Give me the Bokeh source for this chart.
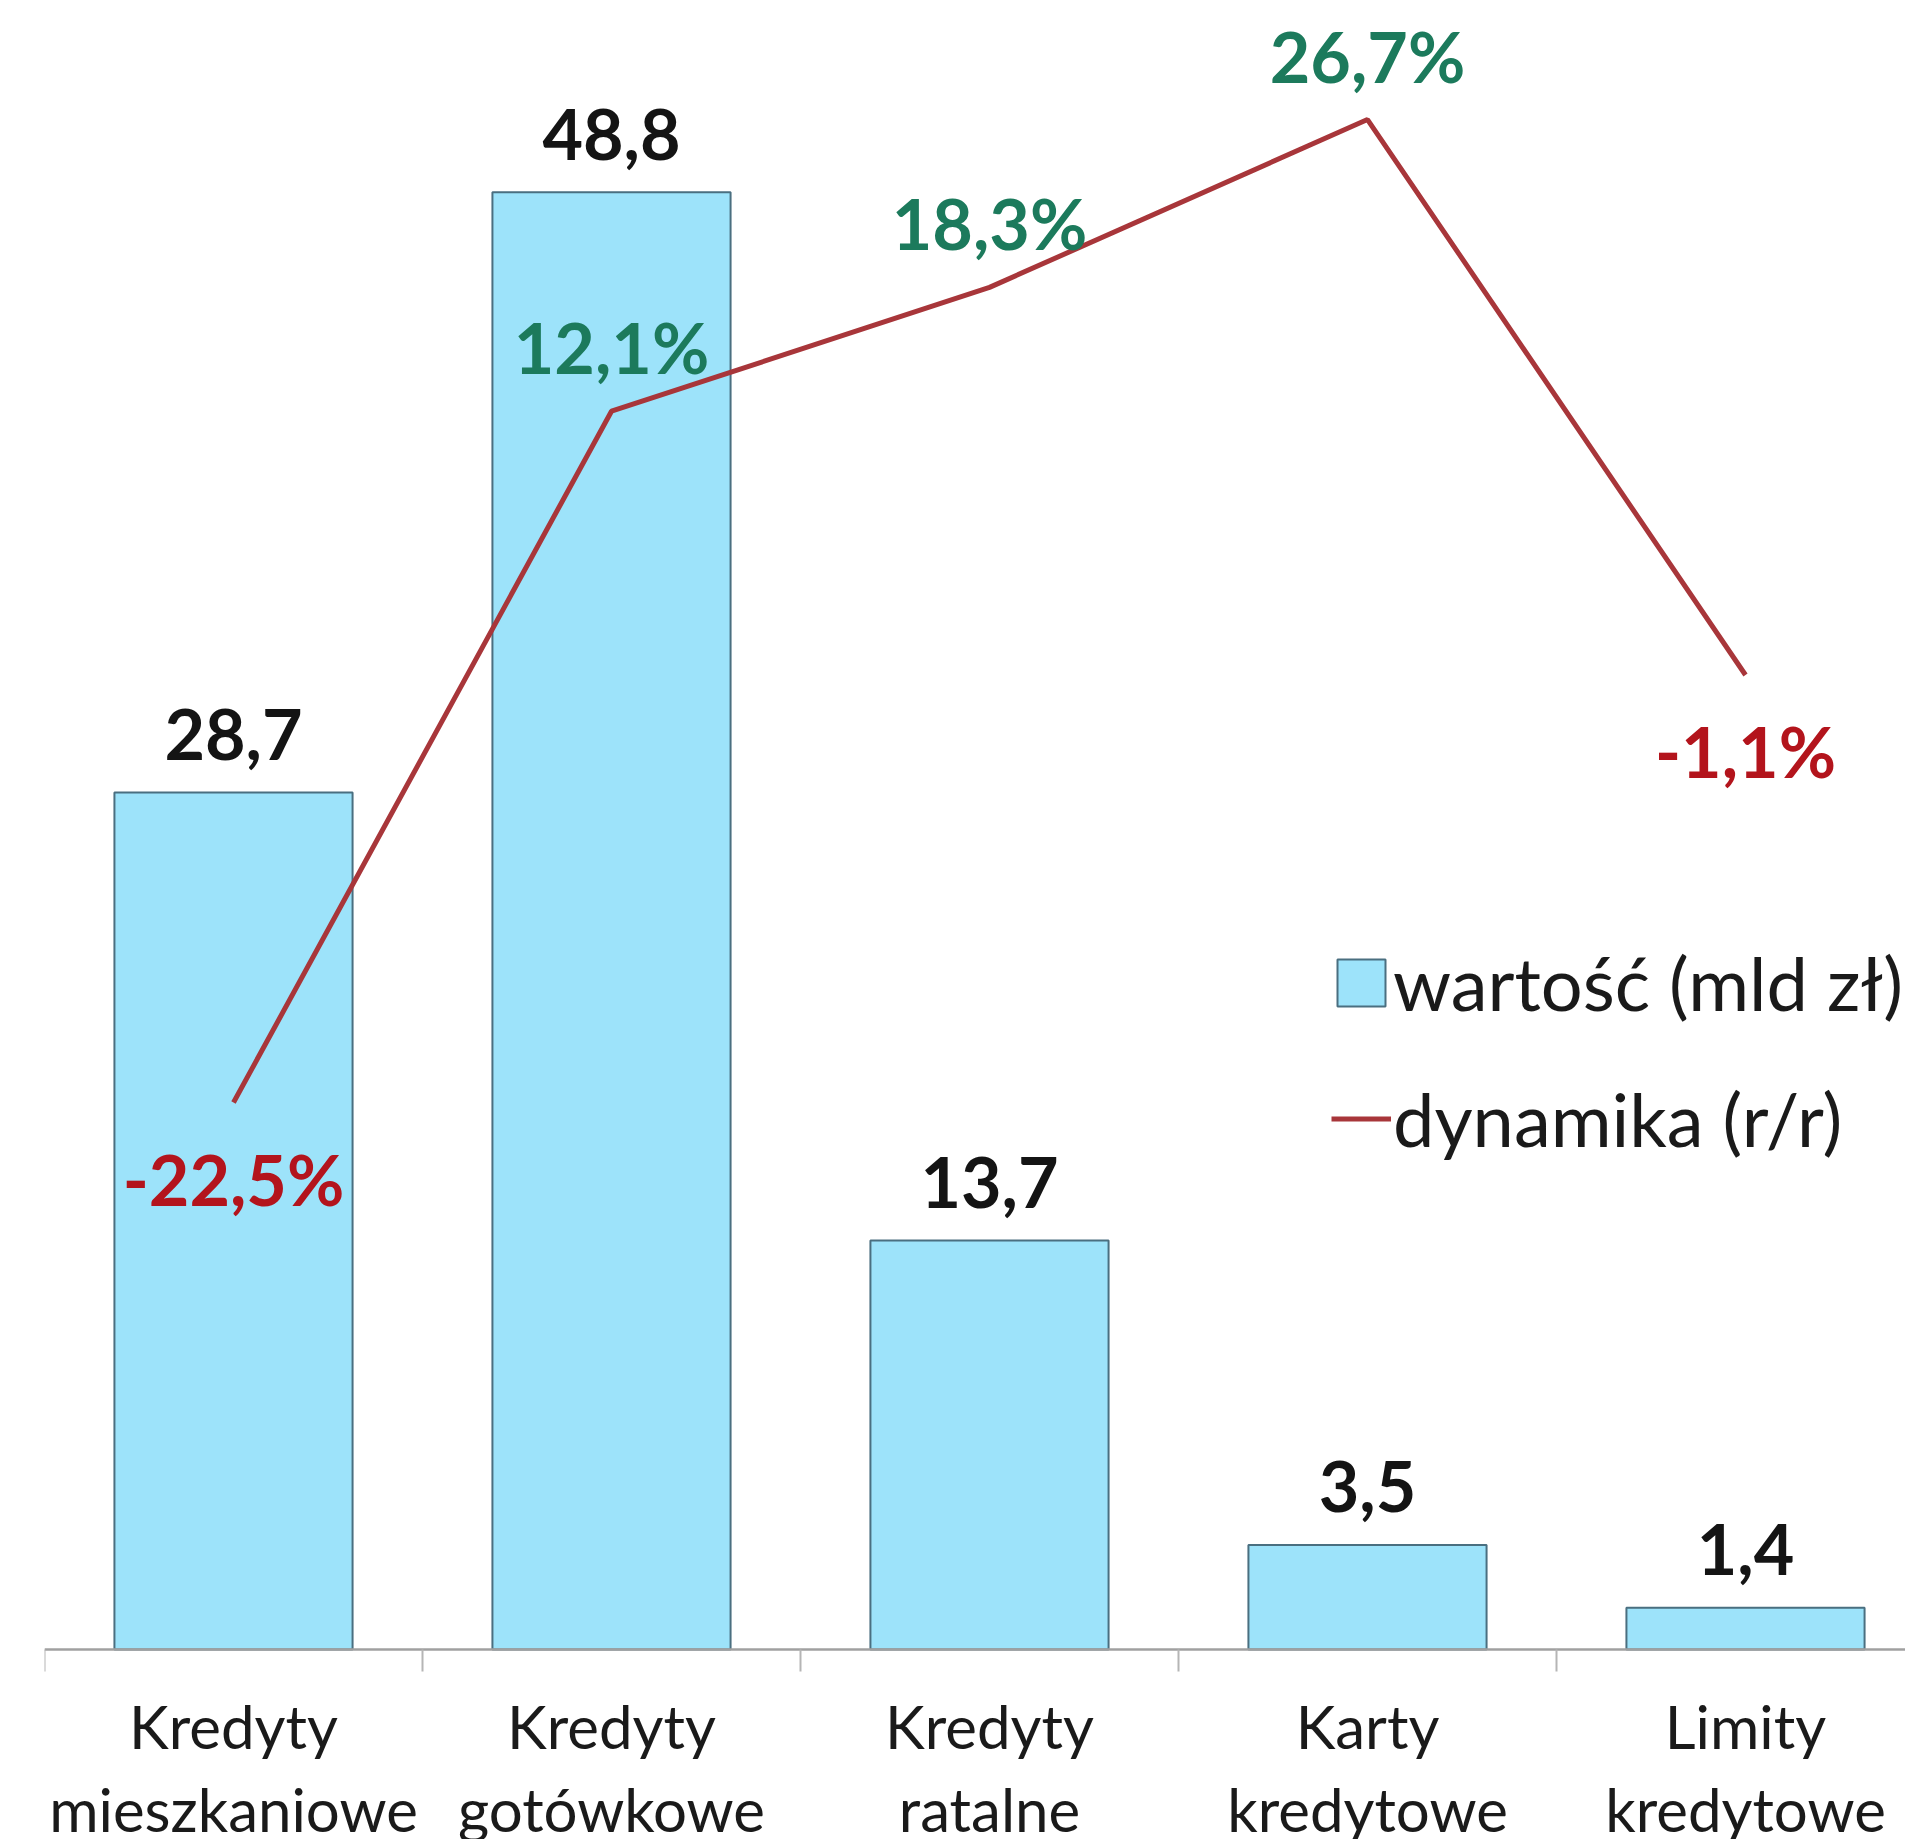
from bokeh.plotting import figure
from bokeh.models import Range1d, FixedTicker, ColumnDataSource, Legend, LegendItem
from bokeh.embed import file_html
from bokeh.resources import INLINE
from bokeh.core.properties import value

categories = ["Kredyty\nmieszkaniowe", "Kredyty\ngotówkowe", "Kredyty\nratalne",
              "Karty\nkredytowe", "Limity\nkredytowe"]
values = [28.7, 48.8, 13.7, 3.5, 1.4]
growth = [-22.5, 12.1, 18.3, 26.7, -1.1]
value_labels = ["28,7", "48,8", "13,7", "3,5", "1,4"]
growth_labels = ["-22,5%", "12,1%", "18,3%", "26,7%", "-1,1%"]
series_names = ["wartość (mld zł)", "dynamika (r/r)"]

FONT = "Lato"
W, H = 1905, 1839
LEFT = 44
AXIS_FROM_TOP = 1649          # axis line position inside the figure (px)
frame_w = W - LEFT
below_axis = H - AXIS_FROM_TOP
cat_px = 378.0
px_per_val = 29.86
px_per_pct = 19.98
zero_pct_above_axis = 996.5

xs = list(range(len(categories)))

p = figure(width=W, height=H, output_backend="svg", toolbar_location=None,
           x_range=Range1d(-0.5, -0.5 + frame_w / cat_px),
           y_range=Range1d(-below_axis / px_per_val, AXIS_FROM_TOP / px_per_val),
           y_axis_location=None, min_border_left=LEFT, min_border_right=0,
           min_border_top=0, min_border_bottom=0)
p.extra_y_ranges = {"pct": Range1d(-(zero_pct_above_axis + below_axis) / px_per_pct,
                                   (AXIS_FROM_TOP - zero_pct_above_axis) / px_per_pct)}
p.xgrid.visible = False
p.ygrid.visible = False
p.outline_line_color = None
p.background_fill_color = "white"
p.border_fill_color = "white"

src = ColumnDataSource(dict(x=xs, v=values, g=growth, vl=value_labels, gl=growth_labels,
                            gc=["#1c7a5c" if g >= 0 else "#b3141c" for g in growth],
                            goff=[-64 if g >= 0 else 76 for g in growth]))

bars = p.vbar(x="x", top="v", width=0.63, source=src, fill_color="#9de3fa",
              line_color="#4a6f80", line_width=2)
line = p.line(x="x", y="g", source=src, y_range_name="pct", line_color="#a8363a",
              line_width=5)

p.text(x="x", y="v", text="vl", source=src, y_offset=-58, text_align="center",
       text_baseline="middle", text_font=value(FONT), text_font_style="bold",
       text_font_size="70px", text_color="#141414")
p.text(x="x", y="g", text="gl", source=src, y_range_name="pct", y_offset="goff",
       text_align="center", text_baseline="middle", text_font=value(FONT),
       text_font_style="bold", text_font_size="70px", text_color="gc")

ax = p.xaxis[0]
ax.fixed_location = 0
ax.ticker = FixedTicker(ticks=xs, minor_ticks=[i - 0.5 for i in range(len(xs) + 1)])
ax.major_label_overrides = {i: c for i, c in zip(xs, categories)}
ax.major_tick_out = 0
ax.major_tick_in = 0
ax.minor_tick_out = 22
ax.minor_tick_in = 0
ax.minor_tick_line_color = "#b5b5b5"
ax.minor_tick_line_width = 2
ax.axis_line_color = "#a0a0a0"
ax.axis_line_width = 2.5
ax.major_label_text_font = FONT
ax.major_label_text_font_size = "60px"
ax.major_label_text_color = "#1a1a1a"
ax.major_label_text_line_height = 1.155
ax.major_label_standoff = 18

legend = Legend(items=[LegendItem(label=series_names[0], renderers=[bars]),
                       LegendItem(label=series_names[1], renderers=[line])],
                location=(1287, 675), orientation="vertical",
                glyph_width=60, glyph_height=59, label_standoff=2,
                label_height=92, spacing=44, padding=0, margin=0,
                border_line_alpha=0, background_fill_alpha=0,
                label_text_font=FONT, label_text_font_size="74px",
                label_text_color="#1a1a1a")
p.add_layout(legend)

open("out.html", "w").write(file_html(p, INLINE))
